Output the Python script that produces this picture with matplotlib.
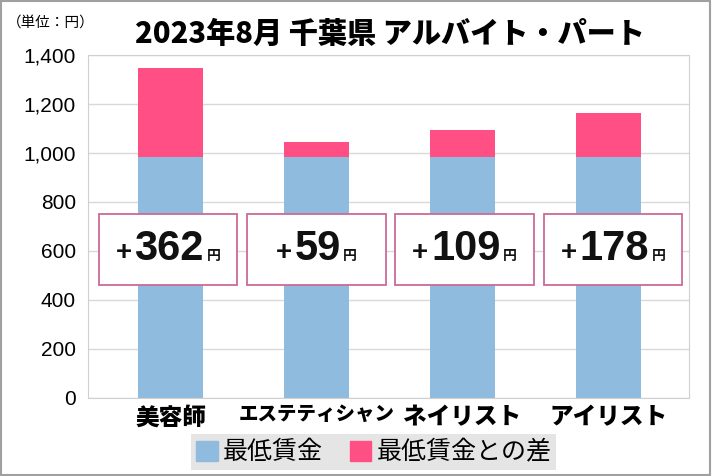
import matplotlib.pyplot as plt
from matplotlib.patches import Rectangle, Patch
from matplotlib.offsetbox import TextArea, HPacker, AnnotationBbox
from matplotlib.ticker import FuncFormatter

# data (Chiba, Aug 2023, minimum wage 984 yen)
categories = ['美容師', 'エステティシャン', 'ネイリスト', 'アイリスト']
min_wage = [984, 984, 984, 984]
diff = [362, 59, 109, 178]
yticks = [0, 200, 400, 600, 800, 1000, 1200, 1400]

blue = '#8FBBDE'
pink = '#FF4F84'
jp = 'Noto Sans CJK JP'
latin = 'Liberation Sans'

fig = plt.figure(figsize=(7.12, 4.76), dpi=100)
ax = fig.add_axes([0.124, 0.164, 0.844, 0.721])

x = list(range(len(categories)))
ax.bar(x, min_wage, width=0.45, color=blue, zorder=2)
ax.bar(x, diff, bottom=min_wage, width=0.45, color=pink, zorder=2)

ax.set_xlim(-0.563, 3.553)
ax.set_ylim(0, 1400)
ax.set_yticks(yticks)
ax.yaxis.set_major_formatter(FuncFormatter(lambda v, p: f'{int(v):,}'))
ax.grid(axis='y', color='#D9D9D9', lw=1, zorder=0)
ax.tick_params(length=0)
ax.tick_params(axis='y', pad=9)
ax.tick_params(axis='x', pad=5)
for lab in ax.get_yticklabels():
    lab.set_fontfamily(latin)
    lab.set_fontsize(15)
ax.set_xticks(x)
ax.set_xticklabels(categories, family=jp, weight='heavy', fontsize=17)
ax.get_xticklabels()[1].set_fontsize(14)
for s in ax.spines.values():
    s.set_color('#D0D0D0')

# white boxes with the difference
for i, d in enumerate(diff):
    cx = -0.017 + 1.016 * i
    ax.add_patch(Rectangle((cx - 0.475, 461), 0.95, 290, facecolor='white',
                           edgecolor='#C96A98', lw=1.3, zorder=3))
    parts = [
        TextArea('+', textprops=dict(fontsize=20, weight='bold', family=latin, color='#111111')),
        TextArea(str(d), textprops=dict(fontsize=30, weight='bold', family=latin, color='#111111')),
        TextArea('円', textprops=dict(fontsize=10, weight='bold', family=jp, color='#111111')),
    ]
    pack = HPacker(children=parts, align='baseline', pad=0, sep=2)
    ab = AnnotationBbox(pack, (cx, 606), frameon=False, box_alignment=(0.5, 0.5), zorder=4)
    ax.add_artist(ab)

fig.text(0.547, 0.928, '2023年8月 千葉県 アルバイト・パート', family=jp, weight='heavy',
         fontsize=21, ha='center', va='center')
fig.text(0.010, 0.952, '（単位：円）', family=jp, fontsize=10.5, ha='left', va='center')

handles = [Patch(color=blue, label='最低賃金'), Patch(color=pink, label='最低賃金との差')]
fig.legend(handles=handles, loc='center', bbox_to_anchor=(0.525, 0.05), ncol=2,
           frameon=True, facecolor='#E5E5E5', edgecolor='none', fancybox=False,
           framealpha=1, prop=dict(family=jp, size=18), handlelength=0.85,
           handleheight=0.85, handletextpad=0.2, columnspacing=1.1, borderpad=0.2)

# outer border
fig.add_artist(Rectangle((0.002, 0.003), 0.995, 0.994, transform=fig.transFigure,
                         fill=False, edgecolor='#A0A0A0', lw=1.5))

plt.savefig('out.png', dpi=100)
